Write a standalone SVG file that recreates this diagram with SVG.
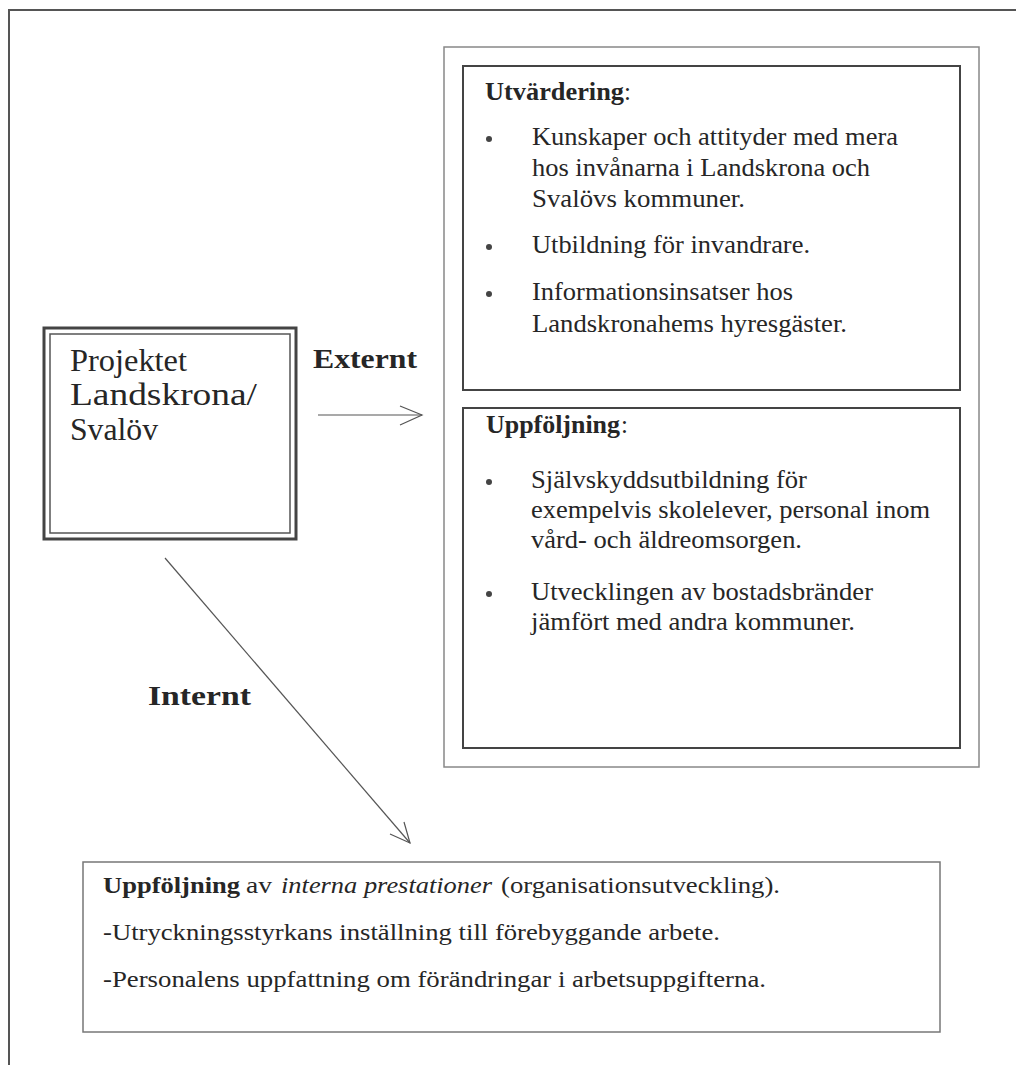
<svg xmlns="http://www.w3.org/2000/svg" width="1016" height="1065" viewBox="0 0 1016 1065">
<style>
.t{font-family:"Liberation Serif","Times New Roman",serif;fill:#262626;font-size:25px}
.b{font-weight:bold}
.i{font-style:italic}
.big{font-size:32px}
.lab{font-size:28px;font-weight:bold}
.sm{font-size:23px}
.ln{fill:none;stroke:#555;stroke-width:1.2}
.box{fill:#fff;stroke:#444;stroke-width:2}
.obox{fill:none;stroke:#888;stroke-width:1.5}
</style>
<rect width="1016" height="1065" fill="#fff"/>
<g id="frame">
<path d="M1016 10 H9 V1065" fill="none" stroke="#555" stroke-width="2"/>
</g>
<g id="projekt">
<rect x="44" y="328" width="252" height="211" fill="#fff" stroke="#444" stroke-width="3"/>
<rect x="50" y="334" width="240" height="199" fill="none" stroke="#555" stroke-width="1.5"/>
<text class="t big" x="70" y="371" textLength="117" lengthAdjust="spacingAndGlyphs">Projektet</text>
<text class="t big" x="70" y="405" textLength="187" lengthAdjust="spacingAndGlyphs">Landskrona/</text>
<text class="t big" x="70" y="440" textLength="88" lengthAdjust="spacingAndGlyphs">Svalöv</text>
</g>
<g id="extern">
<rect x="444" y="47" width="535" height="720" class="obox"/>
</g>
<g id="utvardering">
<rect x="463" y="66" width="497" height="324" class="box"/>
<text class="t b" x="485" y="100" textLength="139" lengthAdjust="spacingAndGlyphs">Utvärdering</text>
<text class="t" x="624" y="100">:</text>
<circle cx="489" cy="139" r="3" fill="#444"/>
<text class="t" x="532" y="145" textLength="366" lengthAdjust="spacingAndGlyphs">Kunskaper och attityder med mera</text>
<text class="t" x="532" y="176" textLength="338" lengthAdjust="spacingAndGlyphs">hos invånarna i Landskrona och</text>
<text class="t" x="532" y="207" textLength="213" lengthAdjust="spacingAndGlyphs">Svalövs kommuner.</text>
<circle cx="489" cy="247" r="3" fill="#444"/>
<text class="t" x="532" y="253" textLength="278" lengthAdjust="spacingAndGlyphs">Utbildning för invandrare.</text>
<circle cx="489" cy="294" r="3" fill="#444"/>
<text class="t" x="532" y="300" textLength="261" lengthAdjust="spacingAndGlyphs">Informationsinsatser hos</text>
<text class="t" x="532" y="332" textLength="315" lengthAdjust="spacingAndGlyphs">Landskronahems hyresgäster.</text>
</g>
<g id="uppfoljning">
<rect x="463" y="408" width="497" height="340" class="box"/>
<text class="t b" x="486" y="433" textLength="134" lengthAdjust="spacingAndGlyphs">Uppföljning</text>
<text class="t" x="621" y="433">:</text>
<circle cx="489" cy="482" r="3" fill="#444"/>
<text class="t" x="531" y="488" textLength="276" lengthAdjust="spacingAndGlyphs">Självskyddsutbildning för</text>
<text class="t" x="531" y="518" textLength="399" lengthAdjust="spacingAndGlyphs">exempelvis skolelever, personal inom</text>
<text class="t" x="531" y="548" textLength="271" lengthAdjust="spacingAndGlyphs">vård- och äldreomsorgen.</text>
<circle cx="489" cy="594" r="3" fill="#444"/>
<text class="t" x="531" y="600" textLength="342" lengthAdjust="spacingAndGlyphs">Utvecklingen av bostadsbränder</text>
<text class="t" x="531" y="630" textLength="324" lengthAdjust="spacingAndGlyphs">jämfört med andra kommuner.</text>
</g>
<g id="intern">
<rect x="83" y="862" width="857" height="170" fill="#fff" stroke="#777" stroke-width="1.5"/>
<text class="t sm b" x="103" y="893" textLength="137" lengthAdjust="spacingAndGlyphs">Uppföljning</text>
<text class="t sm" x="246" y="893" textLength="26" lengthAdjust="spacingAndGlyphs">av</text>
<text class="t sm i" x="281" y="893" textLength="211" lengthAdjust="spacingAndGlyphs">interna prestationer</text>
<text class="t sm" x="501" y="893" textLength="279" lengthAdjust="spacingAndGlyphs">(organisationsutveckling).</text>
<text class="t sm" x="103" y="940" textLength="617" lengthAdjust="spacingAndGlyphs">-Utryckningsstyrkans inställning till förebyggande arbete.</text>
<text class="t sm" x="103" y="987" textLength="663" lengthAdjust="spacingAndGlyphs">-Personalens uppfattning om förändringar i arbetsuppgifterna.</text>
</g>
<g id="connectors">
<line x1="318" y1="415" x2="422" y2="415" class="ln"/>
<polyline points="400,406 422,415 400,425" class="ln"/>
<text class="t lab" x="313" y="368" textLength="104" lengthAdjust="spacingAndGlyphs">Externt</text>
<line x1="165" y1="558" x2="410" y2="843" class="ln"/>
<polyline points="390,834 410,843 404,822" class="ln"/>
<text class="t lab" x="148" y="705" textLength="103" lengthAdjust="spacingAndGlyphs">Internt</text>
</g>
</svg>
